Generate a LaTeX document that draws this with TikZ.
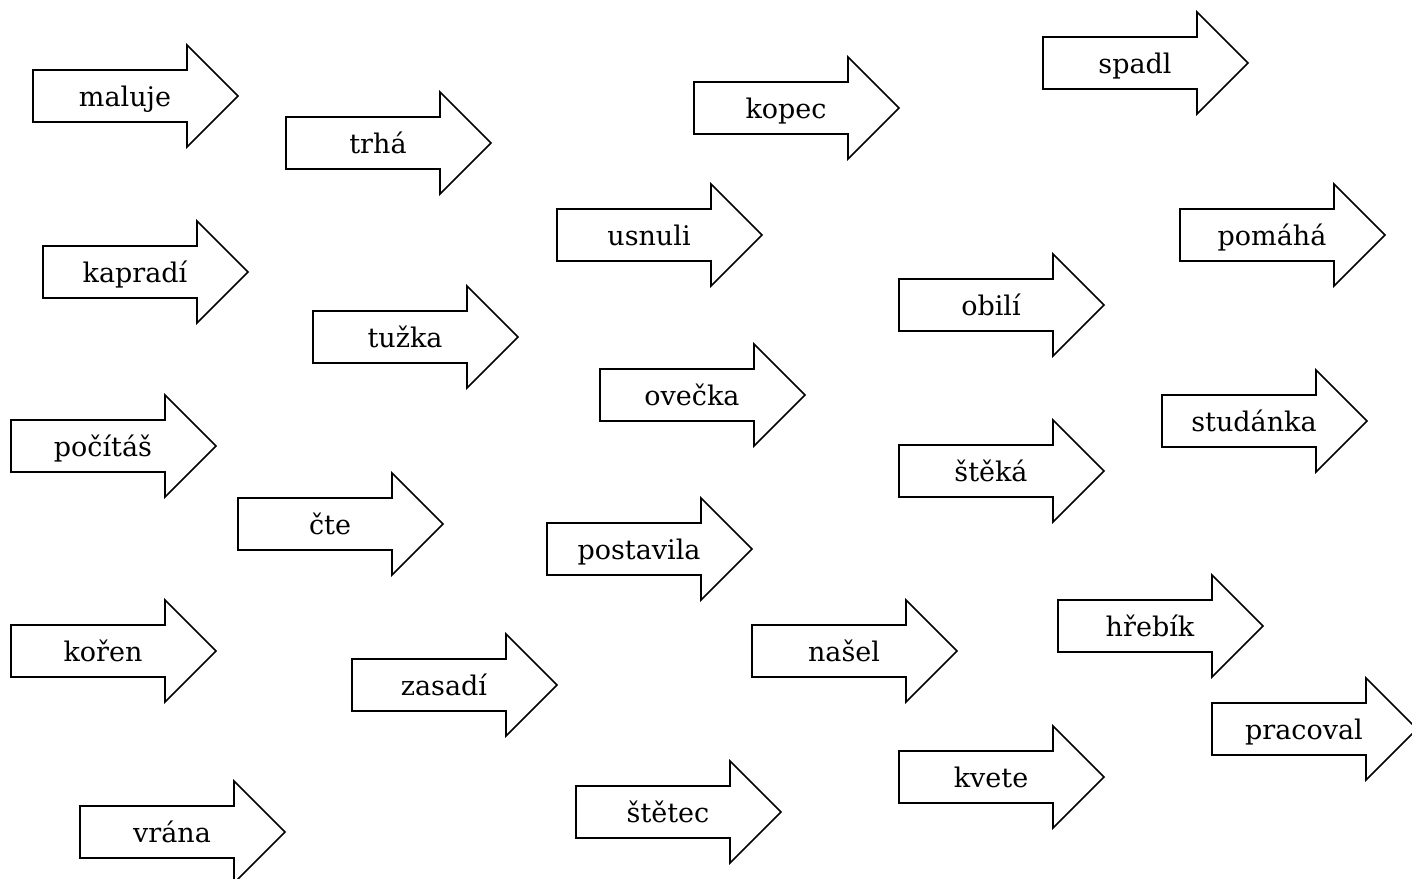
\documentclass[tikz,border=0pt]{standalone}
\usepackage{fontspec}
\setmainfont{DejaVu Serif}
\tikzset{
  arrowshape/.style={draw=black, line width=1.6pt, line join=miter, fill=white},
  wordlabel/.style={anchor=base, inner sep=0pt, font=\fontsize{27}{31}\selectfont}
}
\newcommand\warrow[4]{%
  \draw[arrowshape] (#2,#3) ++(0,-26) -- ++(154,0) -- ++(0,-25) -- ++(51,51) -- ++(-51,51) -- ++(0,-25) -- ++(-154,0) -- cycle;
  \node[wordlabel] (#1) at (#2+92,#3+10) {#4};%
}
\begin{document}
\begin{tikzpicture}[x=1pt,y=-1pt]
\useasboundingbox (0,0) rectangle (1412,878);
\fill[white] (0,0) rectangle (1412,878);
\clip (0,0) rectangle (1412,878);
\warrow{maluje}{33}{96}{maluje}
\warrow{trha}{286}{143}{trhá}
\warrow{kopec}{694}{108}{kopec}
\warrow{spadl}{1043}{63}{spadl}
\warrow{kapradi}{43}{272}{kapradí}
\warrow{usnuli}{557}{235}{usnuli}
\warrow{pomaha}{1180}{235}{pomáhá}
\warrow{tuzka}{313}{337}{tužka}
\warrow{obili}{899}{305}{obilí}
\warrow{ovecka}{600}{395}{ovečka}
\warrow{studanka}{1162}{421}{studánka}
\warrow{pocitas}{11}{446}{počítáš}
\warrow{steka}{899}{471}{štěká}
\warrow{cte}{238}{524}{čte}
\warrow{postavila}{547}{549}{postavila}
\warrow{hrebik}{1058}{626}{hřebík}
\warrow{koren}{11}{651}{kořen}
\warrow{nasel}{752}{651}{našel}
\warrow{zasadi}{352}{685}{zasadí}
\warrow{pracoval}{1212}{729}{pracoval}
\warrow{kvete}{899}{777}{kvete}
\warrow{stetec}{576}{812}{štětec}
\warrow{vrana}{80}{832}{vrána}
\end{tikzpicture}
\end{document}
